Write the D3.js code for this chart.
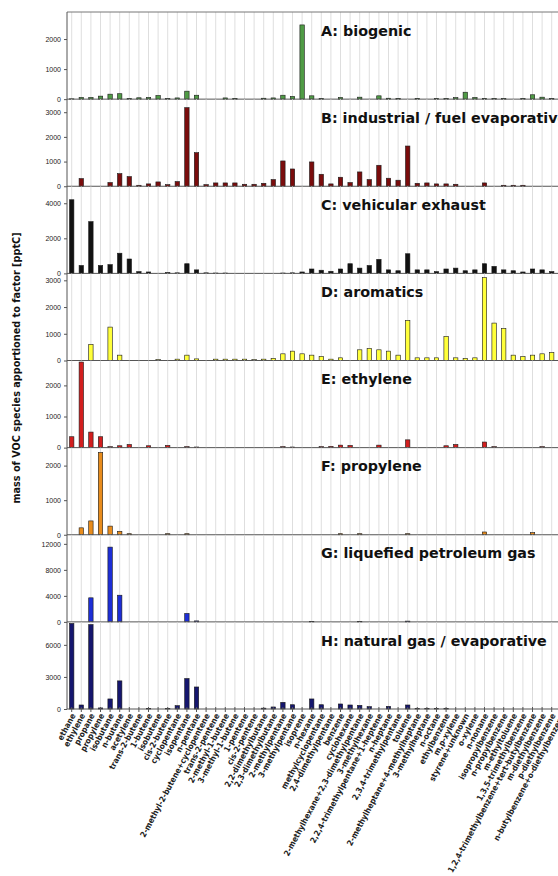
<!DOCTYPE html>
<html>
<head>
<meta charset="utf-8">
<script src="https://cdn.jsdelivr.net/npm/d3@7"></script>
<style>
  body { margin: 0; background: #fff; }
  svg { display: block; }
</style>
</head>
<body>
<div id="chart"></div>
<script>

// VOC species on the x axis
const species = [
    "ethane", "ethylene", "propane", "propylene", "isobutane", "n-butane", "acetylene",
    "trans-2-butene", "1-butene", "isobutene", "cis-2-butene", "cyclopentane", "isopentane",
    "n-pentane", "2-methyl-2-butene+cyclopentene", "trans-2-pentene", "2-methyl-1-butene",
    "3-methyl-1-butene", "1-pentene", "cis-2-pentene", "2,2-dimethylbutane", "2,3-dimethylbutane",
    "2-methylpentane", "3-methylpentane", "isoprene", "n-hexane", "methylcyclopentane",
    "2,4-dimethylpentane", "benzene", "cyclohexane", "2-methylhexane+2,3-dimethylpentane",
    "3-methylhexane", "2,2,4-trimethylpentane+1-heptene", "n-heptane", "2,3,4-trimethylpentane",
    "toluene", "2-methylheptane+4-methylheptane", "3-methylheptane", "n-octane", "ethylbenzene",
    "m,p-xylene", "styrene+unknown", "o-xylene", "n-nonane", "isopropylbenzene", "n-propylbenzene",
    "m-ethyltoluene", "1,3,5-trimethylbenzene", "1,2,4-trimethylbenzene+tert-butylbenzene",
    "m-diethylbenzene", "p-diethylbenzene", "n-butylbenzene+o-diethylbenzene"
];

// factor profiles [pptC], one value per species
const biogenic = [10, 55, 55, 100, 165, 180, 20, 45, 55, 120, 20, 40, 265, 130, 0, 0, 40, 25, 0, 0,
    30, 40, 130, 90, 2470, 110, 20, 0, 55, 0, 65, 0, 110, 30, 25, 0, 25, 0, 20, 20,
    50, 230, 55, 25, 20, 20, 0, 20, 145, 65, 20, 0];
const industrial = [0, 310, 0, 0, 150, 510, 390, 40, 95, 175, 65, 190, 3185, 1360, 65, 135, 135, 135, 80, 80,
    120, 270, 1025, 700, 0, 985, 485, 95, 365, 150, 580, 270, 850, 325, 245, 1630, 120, 135, 95, 95,
    80, 0, 0, 135, 0, 40, 40, 40, 0, 0, 0, 0];
const vehicular = [4200, 450, 2950, 450, 500, 1150, 820, 100, 80, 0, 50, 30, 550, 200, 30, 20, 20, 0, 0, 0,
    0, 0, 20, 30, 80, 250, 180, 120, 250, 550, 300, 450, 800, 200, 150, 1120, 200, 200, 100, 250,
    300, 150, 200, 550, 400, 200, 150, 80, 250, 200, 100, 0];
const aromatics = [0, 0, 600, 0, 1250, 200, 0, 0, 0, 30, 0, 50, 200, 60, 0, 50, 50, 50, 50, 30,
    50, 80, 250, 350, 250, 200, 150, 50, 100, 0, 400, 450, 400, 350, 200, 1500, 100, 100, 100, 900,
    100, 80, 100, 3100, 1400, 1200, 200, 150, 200, 250, 300, 150];
const ethyleneF = [350, 2750, 500, 350, 30, 60, 100, 0, 60, 0, 70, 0, 30, 20, 0, 0, 0, 0, 0, 0,
    0, 0, 30, 20, 0, 0, 30, 40, 80, 70, 0, 0, 80, 0, 0, 250, 0, 0, 0, 60,
    100, 0, 0, 180, 30, 0, 0, 0, 0, 30, 0, 0];
const propyleneF = [0, 200, 400, 2380, 250, 100, 30, 0, 0, 0, 30, 0, 30, 0, 0, 0, 0, 0, 0, 0,
    0, 0, 0, 0, 0, 0, 0, 0, 30, 0, 30, 0, 0, 0, 0, 30, 0, 0, 0, 0,
    0, 0, 0, 80, 0, 0, 0, 0, 60, 0, 0, 0];
const lpg = [0, 0, 3700, 0, 11500, 4100, 0, 0, 0, 0, 0, 0, 1300, 150, 0, 0, 0, 0, 0, 0,
    0, 0, 0, 0, 0, 60, 0, 0, 0, 0, 40, 0, 0, 0, 0, 120, 0, 0, 0, 0,
    0, 0, 0, 0, 0, 0, 0, 0, 0, 0, 0, 0];
const naturalGas = [8000, 375, 7900, 100, 940, 2630, 0, 0, 60, 0, 30, 310, 2850, 2060, 0, 0, 0, 0, 0, 0,
    80, 190, 625, 400, 0, 940, 400, 0, 470, 375, 340, 220, 0, 250, 0, 375, 30, 30, 30, 30,
    0, 0, 0, 0, 0, 0, 0, 0, 0, 0, 0, 0];

const factorTitles = ["A: biogenic", "B: industrial / fuel evaporative", "C: vehicular exhaust",
    "D: aromatics", "E: ethylene", "F: propylene", "G: liquefied petroleum gas", "H: natural gas / evaporative"];
const factorMax = [2900, 3530, 4970, 3260, 2800, 2520, 13400, 8150];
const factorTicks = [[0, 1000, 2000], [0, 1000, 2000, 3000], [0, 2000, 4000], [0, 1000, 2000, 3000],
    [0, 1000, 2000], [0, 1000, 2000], [0, 4000, 8000, 12000], [0, 3000, 6000]];
const factorValues = [biogenic, industrial, vehicular, aromatics, ethyleneF, propyleneF, lpg, naturalGas];

const yLabel = "mass of VOC species apportioned to factor [pptC]";

// styles
const colors = ["#4f9b45", "#7a0c0c", "#111111", "#ffff3a", "#d21e1e", "#e88c1c", "#1d2ed6", "#15166e"];

const width = 558, height = 876;
const margin = {top: 12, left: 67};
const panelH = 87.125;
const step = 9.6;
const barW = 4.4;

const svg = d3.select("#chart").append("svg")
    .attr("width", width)
    .attr("height", height)
    .style("font-family", "'Liberation Sans', Arial, sans-serif");

// x positions of the species
const x = d3.scalePoint()
    .domain(species)
    .range([margin.left + 4.7, margin.left + 4.7 + step * (species.length - 1)]);

const plotRight = margin.left + step * species.length;

factorValues.forEach((values, i) => {
    let top = margin.top + i * panelH;
    let bottom = top + panelH;

    let y = d3.scaleLinear()
        .domain([0, factorMax[i]])
        .range([bottom, top]);

    let g = svg.append("g").attr("class", "panel");

    // vertical grid
    g.selectAll(".grid")
        .data(species)
        .join("line")
        .attr("class", "grid")
        .attr("x1", d => x(d))
        .attr("x2", d => x(d))
        .attr("y1", top)
        .attr("y2", bottom)
        .attr("stroke", "#d6d6d6")
        .attr("stroke-width", 0.8);

    // bars
    let data = values.map((v, j) => ({key: species[j], value: v})).filter(d => d.value > 0);
    g.selectAll(".bar")
        .data(data)
        .join("rect")
        .attr("class", "bar")
        .attr("x", d => x(d.key) - barW / 2)
        .attr("y", d => y(d.value))
        .attr("width", barW)
        .attr("height", d => y(0) - y(d.value))
        .attr("fill", colors[i])
        .attr("stroke", "#1a1a1a")
        .attr("stroke-width", 0.6);

    // zero line
    g.append("line")
        .attr("x1", margin.left)
        .attr("x2", plotRight)
        .attr("y1", y(0))
        .attr("y2", y(0))
        .attr("stroke", "#555")
        .attr("stroke-width", 1);

    // y axis
    let axis = d3.axisLeft(y)
        .tickValues(factorTicks[i])
        .tickSize(3)
        .tickPadding(3)
        .tickFormat(d3.format("d"));

    let ax = g.append("g")
        .attr("transform", "translate(" + margin.left + ",0)")
        .call(axis);
    ax.select(".domain").remove();
    ax.selectAll("line").attr("stroke", "#555");
    ax.selectAll("text")
        .attr("font-size", 7)
        .attr("fill", "#222")
        .style("font-family", "'Liberation Sans', Arial, sans-serif");

    // title
    g.append("text")
        .attr("x", 321)
        .attr("y", top + 23.7)
        .attr("font-size", 14.3)
        .attr("font-weight", "bold")
        .attr("fill", "#111")
        .style("font-family", "'DejaVu Sans', Verdana, sans-serif")
        .text(factorTitles[i]);
});

// frame: top and left
svg.append("line")
    .attr("x1", margin.left).attr("x2", plotRight)
    .attr("y1", margin.top).attr("y2", margin.top)
    .attr("stroke", "#777").attr("stroke-width", 1);
svg.append("line")
    .attr("x1", margin.left).attr("x2", margin.left)
    .attr("y1", margin.top).attr("y2", margin.top + 8 * panelH)
    .attr("stroke", "#555").attr("stroke-width", 1);

// x ticks and species labels under the last panel
const axisY = margin.top + 8 * panelH;

svg.append("g")
    .selectAll("line")
    .data(species)
    .join("line")
    .attr("x1", d => x(d))
    .attr("x2", d => x(d))
    .attr("y1", axisY - 2)
    .attr("y2", axisY + 3)
    .attr("stroke", "#555");

svg.append("g")
    .selectAll("text")
    .data(species)
    .join("text")
    .attr("transform", d => "translate(" + (x(d) + 1.5) + "," + (axisY + 5) + ") rotate(-62)")
    .attr("text-anchor", "end")
    .attr("dy", "0.35em")
    .attr("font-size", 8.2)
    .attr("font-weight", "bold")
    .attr("fill", "#222")
    .style("font-family", "'DejaVu Sans Condensed', 'DejaVu Sans', sans-serif")
    .text(d => d);

// y axis title
svg.append("text")
    .attr("transform", "translate(20,368) rotate(-90)")
    .attr("text-anchor", "middle")
    .attr("font-size", 9.7)
    .attr("font-weight", "bold")
    .attr("fill", "#111")
    .style("font-family", "'DejaVu Sans', Verdana, sans-serif")
    .text(yLabel);

</script>
</body>
</html>
